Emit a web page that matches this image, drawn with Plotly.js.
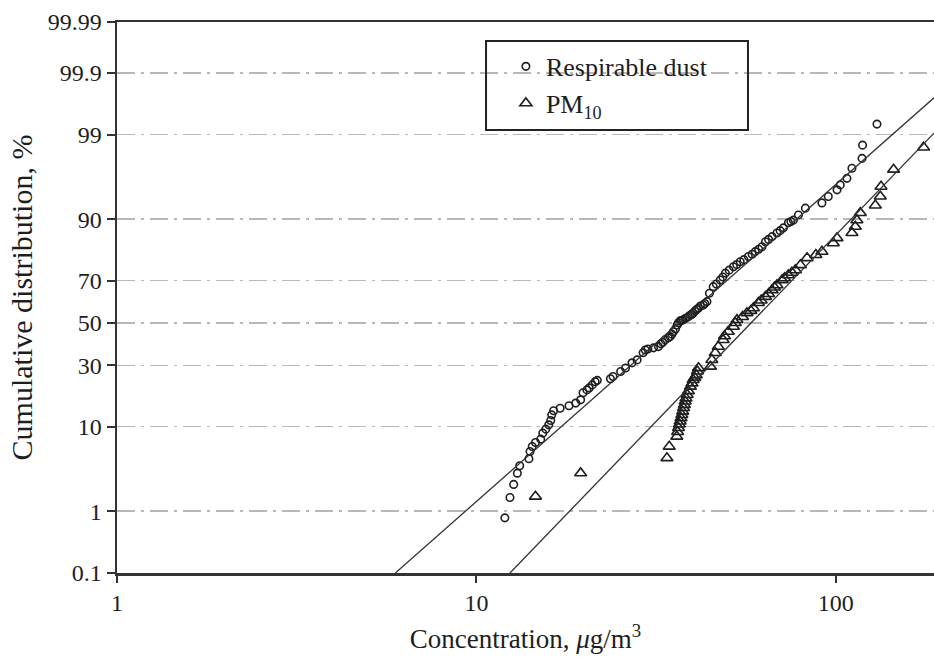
<!DOCTYPE html>
<html>
<head>
<meta charset="utf-8">
<script src="https://cdn.plot.ly/plotly-3.0.1.min.js"></script>
<style>
html,body{margin:0;padding:0;background:#fff;}
#chart{width:934px;height:661px;}
</style>
</head>
<body>
<div id="chart"></div>
<script>
// ---- data (concentration in ug/m3, cumulative distribution in %) ----
const respConc = [12.0, 12.4, 12.7, 13.0, 13.2, 14.0, 14.1, 14.3, 14.6, 15.1, 15.3, 15.6, 15.9, 16.1, 16.2, 16.4,
  17.1, 18.1, 18.9, 19.5, 19.8, 20.3, 20.6, 21.0, 21.4, 21.7, 23.6, 24.0, 25.2, 26.0, 27.1, 28.0, 29.1, 29.5,
  30.0, 31.1, 32.1, 32.6, 33.0, 33.5, 34.2, 34.6, 35.0, 35.3, 35.8, 36.2, 36.5, 36.9, 37.2, 37.6, 38.2, 38.9,
  39.4, 39.8, 40.1, 40.6, 41.0, 41.5, 42.0, 42.8, 43.2, 43.8, 44.5, 45.6, 46.5, 47.7, 48.5, 49.3, 50.5, 51.9,
  53.0, 54.2, 55.5, 57.1, 58.5, 59.7, 61.0, 62.3, 63.7, 65.0, 66.5, 68.6, 70.0, 71.5, 73.8, 75.0, 76.2, 78.7,
  82.3, 91.5, 95.3, 100.8, 102.9, 107.4, 110.9, 118.3, 118.7, 130.2];
const respPct = [0.80, 1.55, 2.30, 3.17, 3.88, 4.66, 5.60, 6.34, 6.97, 7.55, 8.66, 9.47, 10.4, 11.4, 12.8, 13.9,
  14.6, 15.3, 16.1, 17.1, 19.4, 20.4, 21.1, 22.2, 23.4, 23.9, 24.5, 25.4, 27.4, 28.9, 31.1, 32.4, 35.6, 36.9,
  37.4, 37.9, 38.5, 39.8, 40.5, 41.7, 42.7, 43.3, 44.5, 45.7, 47.0, 49.0, 50.1, 51.0, 51.2, 51.5, 52.3, 53.1,
  53.9, 54.3, 54.9, 55.9, 56.6, 57.3, 58.3, 58.8, 59.5, 60.4, 64.3, 67.3, 68.5, 70.2, 71.5, 73.1, 74.3, 75.6,
  76.5, 77.5, 78.3, 79.4, 80.2, 81.1, 81.9, 82.7, 84.2, 84.9, 85.7, 86.7, 87.3, 88.0, 89.2, 89.5, 89.8, 90.9,
  92.2, 93.1, 94.1, 95.0, 95.6, 96.3, 97.2, 97.9, 98.6, 99.3];

const pmConc = [14.6, 19.5, 33.9, 34.4, 36.1, 36.3, 36.5, 36.7, 36.9, 37.1, 37.3, 37.5, 37.7, 37.9, 38.1, 38.3,
  38.6, 38.9, 39.4, 39.8, 40.1, 40.5, 40.9, 41.2, 41.5, 44.8, 45.2, 46.2, 47.1, 48.6, 49.0, 50.2, 51.9, 52.5,
  53.1, 55.0, 56.6, 58.0, 59.0, 60.9, 62.0, 63.7, 65.0, 66.5, 67.5, 68.6, 70.9, 72.0, 73.8, 75.5, 77.2, 79.7,
  83.2, 88.0, 91.5, 98.4, 100.8, 110.9, 113.3, 114.5, 117.0, 128.8, 133.0, 133.6, 144.8, 175.5];
const pmPct = [1.60, 3.17, 4.75, 6.34, 8.02, 8.9, 9.75, 10.5, 11.2, 12.0, 12.8, 13.7, 14.7, 15.6, 16.6, 17.6,
  18.7, 20.0, 21.6, 22.8, 24.1, 25.0, 26.0, 27.5, 28.9, 29.5, 32.4, 35.6, 38.5, 41.7, 43.5, 45.7, 48.2, 50.0,
  51.5, 53.0, 54.9, 56.0, 57.3, 59.8, 61.0, 62.7, 64.0, 65.8, 67.0, 68.0, 70.2, 71.0, 72.3, 73.3, 74.3, 76.3,
  78.9, 80.0, 81.1, 83.8, 85.3, 86.7, 88.3, 89.8, 91.3, 92.7, 94.1, 95.4, 97.1, 98.5];

// fitted log-normal lines (end points)
const respFitConc = [5.95, 187.6];
const respFitPct = [0.1, 99.73];
const pmFitConc = [12.4, 187.6];
const pmFitPct = [0.1, 99.05];

// axis ticks
const yTickPct = [0.1, 1, 10, 30, 50, 70, 90, 99, 99.9, 99.99];
const yTickText = ['0.1', '1', '10', '30', '50', '70', '90', '99', '99.9', '99.99'];
const xTickVals = [1, 10, 100];
const xTickText = ['1', '10', '100'];

// ---- probability scale (normal quantile) ----
function probit(pct) {
  const p = pct / 100;
  const a = [-3.969683028665376e+01, 2.209460984245205e+02, -2.759285104469687e+02, 1.383577518672690e+02, -3.066479806614716e+01, 2.506628277459239e+00];
  const b = [-5.447609879822406e+01, 1.615858368580409e+02, -1.556989798598866e+02, 6.680131188771972e+01, -1.328068155288572e+01];
  const c = [-7.784894002430293e-03, -3.223964580411365e-01, -2.400758277161838e+00, -2.549671750376424e+00, 4.374664141464968e+00, 2.938163982698783e+00];
  const d = [7.784695709041462e-03, 3.224671290700398e-01, 2.445134137142996e+00, 3.754408661907416e+00];
  const pl = 0.02425, ph = 1 - pl;
  let q, r;
  if (p < pl) {
    q = Math.sqrt(-2 * Math.log(p));
    return (((((c[0]*q+c[1])*q+c[2])*q+c[3])*q+c[4])*q+c[5]) / ((((d[0]*q+d[1])*q+d[2])*q+d[3])*q+1);
  } else if (p <= ph) {
    q = p - 0.5; r = q * q;
    return (((((a[0]*r+a[1])*r+a[2])*r+a[3])*r+a[4])*r+a[5])*q / (((((b[0]*r+b[1])*r+b[2])*r+b[3])*r+b[4])*r+1);
  } else {
    q = Math.sqrt(-2 * Math.log(1 - p));
    return -(((((c[0]*q+c[1])*q+c[2])*q+c[3])*q+c[4])*q+c[5]) / ((((d[0]*q+d[1])*q+d[2])*q+d[3])*q+1);
  }
}
const toZ = arr => arr.map(probit);

const FONT = '"Liberation Serif", "Times New Roman", Times, serif';
const INK = '#1e1e1e';

const traces = [
  {
    x: respConc, y: toZ(respPct), name: 'Respirable dust', type: 'scatter', mode: 'markers',
    marker: {symbol: 'circle-open', size: 7.5, color: INK, line: {width: 1.6, color: INK}},
    hoverinfo: 'skip'
  },
  {
    x: pmConc, y: toZ(pmPct), name: 'PM<sub>10</sub>', type: 'scatter', mode: 'markers',
    marker: {symbol: 'triangle-up-open', size: 10.5, color: INK, line: {width: 1.6, color: INK}},
    hoverinfo: 'skip'
  },
  {
    x: respFitConc, y: toZ(respFitPct), type: 'scatter', mode: 'lines', showlegend: false,
    line: {color: '#333333', width: 1.3}, hoverinfo: 'skip'
  },
  {
    x: pmFitConc, y: toZ(pmFitPct), type: 'scatter', mode: 'lines', showlegend: false,
    line: {color: '#333333', width: 1.3}, hoverinfo: 'skip'
  }
];

const layout = {
  width: 934, height: 661,
  margin: {l: 117, r: 0, t: 22, b: 88},
  paper_bgcolor: '#ffffff', plot_bgcolor: '#ffffff',
  font: {family: FONT, color: INK, size: 22},
  showlegend: true,
  legend: {
    x: 0.476, xanchor: 'left', y: 0.962, yanchor: 'top',
    bgcolor: 'rgba(0,0,0,0)', borderwidth: 0,
    font: {family: FONT, size: 26, color: INK},
    tracegroupgap: 0
  },
  xaxis: {
    type: 'log',
    range: [0, Math.log10(187.6)],
    tickvals: xTickVals, ticktext: xTickText,
    ticks: 'outside', ticklen: 7, tickwidth: 2, tickcolor: '#333',
    showline: true, linecolor: '#333', linewidth: 2.5, mirror: true,
    showgrid: false, zeroline: false,
    tickfont: {family: FONT, size: 24, color: INK},
    title: {text: 'Concentration, <i>μ</i>g/m<sup>3</sup>', font: {family: FONT, size: 27, color: INK}, standoff: 14}
  },
  yaxis: {
    range: [probit(0.1), probit(99.99)],
    tickvals: toZ(yTickPct), ticktext: yTickText,
    ticks: 'outside', ticklen: 8, tickwidth: 2, tickcolor: '#333',
    showline: true, linecolor: '#333', linewidth: 2.5,
    showgrid: true, gridcolor: '#b8b8b8', gridwidth: 1.5, griddash: '18px,6px,3px,6px',
    zeroline: false,
    tickfont: {family: FONT, size: 24, color: INK},
    title: {text: 'Cumulative distribution, %', font: {family: FONT, size: 30, color: INK}, standoff: 6}
  },
  shapes: [{
    type: 'rect', xref: 'paper', yref: 'paper',
    x0: 0.4517, x1: 0.7723, y0: 0.804, y1: 0.9655,
    line: {color: '#222', width: 2}, fillcolor: 'rgba(0,0,0,0)'
  }]
};

Plotly.newPlot('chart', traces, layout, {staticPlot: true, displayModeBar: false});
</script>
</body>
</html>
